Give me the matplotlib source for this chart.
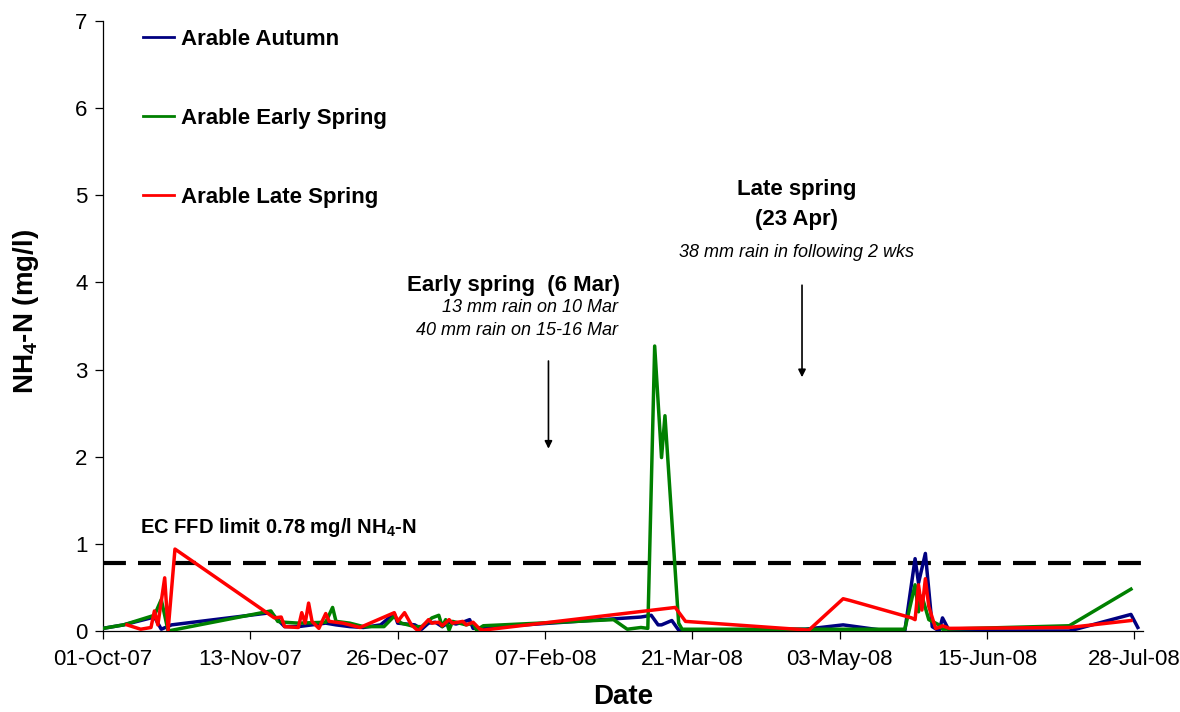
import matplotlib
matplotlib.use('Agg')
import matplotlib.pyplot as plt
import matplotlib.dates as mdates
import pandas as pd

plt.rcParams['font.family'] = ['Liberation Sans', 'DejaVu Sans']
plt.rcParams['mathtext.fontset'] = 'custom'
plt.rcParams['mathtext.rm'] = 'Liberation Sans'
plt.rcParams['mathtext.bf'] = 'Liberation Sans:bold'
plt.rcParams['mathtext.it'] = 'Liberation Sans:italic'

# NH4-N (mg/l) per sampling date
autumn_dates = ['2007-10-01', '2007-10-07', '2007-10-16', '2007-10-18', '2007-10-21',
                '2007-11-19', '2007-11-21', '2007-11-23', '2007-11-27', '2007-12-05',
                '2007-12-08', '2007-12-12', '2007-12-16', '2007-12-21', '2007-12-25',
                '2007-12-26', '2007-12-31', '2008-01-02', '2008-01-04', '2008-01-06',
                '2008-01-08', '2008-01-10', '2008-01-12', '2008-01-14', '2008-01-16',
                '2008-01-17', '2008-03-06', '2008-03-09', '2008-03-11', '2008-03-12',
                '2008-03-15', '2008-03-17', '2008-04-23', '2008-05-04', '2008-05-17',
                '2008-05-22', '2008-05-25', '2008-05-26', '2008-05-28', '2008-05-30',
                '2008-06-01', '2008-06-02', '2008-06-04', '2008-07-09', '2008-07-27',
                '2008-07-29']
autumn_nh4 = [0.03, 0.07, 0.16, 0.02, 0.07,
              0.21, 0.13, 0.05, 0.05, 0.09,
              0.07, 0.05, 0.04, 0.07, 0.20,
              0.09, 0.07, 0.02, 0.09, 0.10,
              0.05, 0.10, 0.08, 0.10, 0.13,
              0.03, 0.16, 0.18, 0.07, 0.07,
              0.12, 0.01, 0.02, 0.07, 0.00,
              0.00, 0.83, 0.55, 0.89, 0.05,
              0.00, 0.15, 0.00, 0.00, 0.19,
              0.04]

early_dates = ['2007-10-01', '2007-10-07', '2007-10-16', '2007-10-18', '2007-10-20',
               '2007-11-19', '2007-11-21', '2007-11-23', '2007-11-27', '2007-12-05',
               '2007-12-07', '2007-12-08', '2007-12-12', '2007-12-16', '2007-12-22',
               '2007-12-25', '2007-12-27', '2007-12-31', '2008-01-02', '2008-01-05',
               '2008-01-07', '2008-01-08', '2008-01-09', '2008-01-10', '2008-01-11',
               '2008-01-13', '2008-01-15', '2008-01-17', '2008-01-18', '2008-01-20',
               '2008-02-27', '2008-03-02', '2008-03-06', '2008-03-08', '2008-03-10',
               '2008-03-12', '2008-03-13', '2008-03-17', '2008-03-18', '2008-05-22',
               '2008-05-25', '2008-05-26', '2008-05-27', '2008-05-29', '2008-06-01',
               '2008-06-02', '2008-07-09', '2008-07-27']
early_nh4 = [0.03, 0.07, 0.18, 0.36, 0.00,
             0.23, 0.11, 0.10, 0.09, 0.10,
             0.27, 0.11, 0.09, 0.05, 0.05,
             0.17, 0.09, 0.05, 0.05, 0.15,
             0.18, 0.05, 0.13, 0.01, 0.11,
             0.09, 0.07, 0.09, 0.01, 0.06,
             0.13, 0.02, 0.04, 0.03, 3.27,
             1.99, 2.47, 0.09, 0.02, 0.02,
             0.53, 0.22, 0.40, 0.13, 0.07,
             0.02, 0.06, 0.48]

late_dates = ['2007-10-08', '2007-10-12', '2007-10-15', '2007-10-16', '2007-10-17',
              '2007-10-19', '2007-10-20', '2007-10-22', '2007-11-20', '2007-11-22',
              '2007-11-23', '2007-11-27', '2007-11-28', '2007-11-29', '2007-11-30',
              '2007-12-01', '2007-12-03', '2007-12-05', '2007-12-06', '2007-12-10',
              '2007-12-15', '2007-12-25', '2007-12-26', '2007-12-28', '2007-12-30',
              '2008-01-01', '2008-01-04', '2008-01-05', '2008-01-07', '2008-01-08',
              '2008-01-10', '2008-01-11', '2008-01-14', '2008-01-15', '2008-01-17',
              '2008-01-19', '2008-01-20', '2008-03-16', '2008-03-19', '2008-04-24',
              '2008-05-04', '2008-05-06', '2008-05-24', '2008-05-25', '2008-05-26',
              '2008-05-27', '2008-05-28', '2008-05-29', '2008-05-31', '2008-06-01',
              '2008-06-02', '2008-06-04', '2008-07-09', '2008-07-27']
late_nh4 = [0.07, 0.02, 0.04, 0.23, 0.07,
            0.61, 0.01, 0.94, 0.15, 0.16,
            0.05, 0.04, 0.21, 0.09, 0.32,
            0.11, 0.03, 0.20, 0.11, 0.09,
            0.04, 0.21, 0.11, 0.21, 0.07,
            0.00, 0.13, 0.09, 0.10, 0.06,
            0.13, 0.09, 0.11, 0.07, 0.10,
            0.02, 0.01, 0.27, 0.11, 0.01,
            0.37, 0.35, 0.15, 0.13, 0.53,
            0.24, 0.60, 0.28, 0.03, 0.04,
            0.06, 0.03, 0.04, 0.12]

series_names = ['Arable Autumn', 'Arable Early Spring', 'Arable Late Spring']
series_colors = ['#000080', '#008000', '#FF0000']

ec_limit = 0.78
tick_dates = pd.date_range('2007-10-01', periods=8, freq='43D')

fig = plt.figure(figsize=(11.8, 7.12), dpi=100)
ax = fig.add_axes([0.0873, 0.1138, 0.8813, 0.8567])

all_dates = [autumn_dates, early_dates, late_dates]
all_vals = [autumn_nh4, early_nh4, late_nh4]
for d, v, name, c in zip(all_dates, all_vals, series_names, series_colors):
    ax.plot(pd.to_datetime(d), v, color=c, lw=2.5, label=name, zorder=3)

# EC limit line
ax.axhline(ec_limit, color='black', lw=3, dashes=(5.5, 2.9), zorder=2)
ax.text(0.036, 0.169, r'EC FFD limit 0.78 mg/l NH$_\mathbf{4}$-N', transform=ax.transAxes,
        fontsize=14.5, fontweight='bold', ha='left', va='center')

# application annotations
ax.text(0.497, 0.567, 'Early spring  (6 Mar)', transform=ax.transAxes,
        fontsize=16, fontweight='bold', ha='right', va='center')
ax.text(0.495, 0.530, '13 mm rain on 10 Mar', transform=ax.transAxes,
        fontsize=13, style='italic', ha='right', va='center')
ax.text(0.495, 0.492, '40 mm rain on 15-16 Mar', transform=ax.transAxes,
        fontsize=13, style='italic', ha='right', va='center')
ax.annotate('', xy=(pd.Timestamp('2008-02-08'), 2.06), xytext=(pd.Timestamp('2008-02-08'), 3.13),
            arrowprops=dict(arrowstyle='-|>', color='black', lw=1.2, mutation_scale=11))

ax.text(0.667, 0.723, 'Late spring', transform=ax.transAxes,
        fontsize=16, fontweight='bold', ha='center', va='center')
ax.text(0.667, 0.675, '(23 Apr)', transform=ax.transAxes,
        fontsize=16, fontweight='bold', ha='center', va='center')
ax.text(0.667, 0.621, '38 mm rain in following 2 wks', transform=ax.transAxes,
        fontsize=13, style='italic', ha='center', va='center')
ax.annotate('', xy=(pd.Timestamp('2008-04-22'), 2.88), xytext=(pd.Timestamp('2008-04-22'), 4.0),
            arrowprops=dict(arrowstyle='-|>', color='black', lw=1.2, mutation_scale=11))

# axes
ax.set_xlim(pd.Timestamp('2007-10-01'), pd.Timestamp('2008-07-30 12:00'))
ax.set_ylim(0, 7)
ax.set_yticks(range(0, 8))
ax.set_xticks(tick_dates)
ax.xaxis.set_major_formatter(mdates.DateFormatter('%d-%b-%y'))
ax.tick_params(axis='both', direction='out', length=6, width=0.9, labelsize=16)
ax.tick_params(axis='x', pad=7)
ax.tick_params(axis='y', pad=5)
for s in ['top', 'right']:
    ax.spines[s].set_visible(False)
for s in ['left', 'bottom']:
    ax.spines[s].set_linewidth(0.9)

ax.set_xlabel('Date', fontsize=20, fontweight='bold', labelpad=10)
ax.set_ylabel(r'NH$_\mathbf{4}$-N (mg/l)', fontsize=20, fontweight='bold')
ax.yaxis.set_label_coords(-0.0596, 0.523)

leg = ax.legend(loc='upper left', bbox_to_anchor=(143 / 1180, 1 - 29 / 712),
                bbox_transform=fig.transFigure, frameon=False,
                prop={'weight': 'bold', 'size': 16}, handlelength=1.4,
                handletextpad=0.3, labelspacing=2.6, borderpad=0, borderaxespad=0)
for h in leg.get_lines():
    h.set_linewidth(2)

fig.savefig('out.png', dpi=100)
